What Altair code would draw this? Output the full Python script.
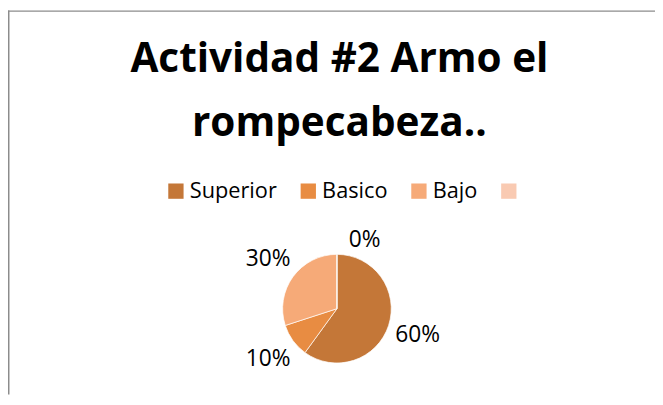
import altair as alt
import pandas as pd

# ---- data ----
categorias = ["Superior", "Basico", "Bajo", " "]
porcentajes = [60, 10, 30, 0]
colores = ["#C47738", "#E88C42", "#F6AA78", "#F9CAB2"]
titulo = ["Actividad #2 Armo el", "rompecabeza.."]

df = pd.DataFrame({
    "categoria": categorias,
    "porcentaje": porcentajes,
    "orden": list(range(len(categorias))),
})
df["etiqueta"] = [f"{v}%" for v in porcentajes]

FONT = "Open Sans"
W, H = 655, 237
PAD_TOP = 152
CX, CY = 333, 150

base = alt.Chart(df).encode(
    theta=alt.Theta("porcentaje:Q", stack=True),
    order=alt.Order("orden:Q"),
)

pie = base.mark_arc(outerRadius=55, stroke="white", strokeWidth=0.7).encode(
    x=alt.value(CX),
    y=alt.value(CY),
    color=alt.Color(
        "categoria:N",
        scale=alt.Scale(domain=categorias, range=colores),
        sort=categorias,
        legend=alt.Legend(
            title=None, orient="none", legendX=159, legendY=20,
            direction="horizontal", columns=4,
            symbolType="square", symbolSize=240, symbolStrokeWidth=0,
            symbolOpacity=1,
            labelFont=FONT, labelFontSize=22, labelColor="black",
            labelOffset=3, columnPadding=20,
        ),
    ),
)

labels = base.mark_text(radius=86, font=FONT, fontSize=23, color="black",
                        align="center", baseline="middle").encode(
    x=alt.value(CX), y=alt.value(CY), text="etiqueta:N",
).transform_filter(alt.datum.porcentaje > 0)

zero_label = base.mark_text(radius=86, font=FONT, fontSize=23, color="black",
                            align="center", baseline="middle", dx=28, dy=17).encode(
    x=alt.value(CX), y=alt.value(CY), text="etiqueta:N",
).transform_filter(alt.datum.porcentaje == 0)

frame = alt.Chart(alt.Data(values=[{}]))
frame_top = frame.mark_rule(color="#8c8c8c", strokeWidth=1.5).encode(
    x=alt.value(0), x2=alt.value(W), y=alt.value(-PAD_TOP + 0.75)
)
frame_left = frame.mark_rule(color="#8c8c8c", strokeWidth=1.5).encode(
    x=alt.value(0.75), y=alt.value(-PAD_TOP), y2=alt.value(H)
)

chart = alt.layer(frame_top, frame_left, pie, labels, zero_label).properties(
    width=W, height=H,
    autosize="none",
    padding={"top": PAD_TOP, "left": 0, "right": 0, "bottom": 0},
    title=alt.TitleParams(
        text=titulo, font=FONT, fontSize=41, fontWeight="bold", color="black",
        lineHeight=65, anchor="middle", offset=0, dx=8, dy=137,
    ),
).configure_view(stroke=None)

chart.save("out.html", embed_options={"renderer": "svg", "actions": False})
